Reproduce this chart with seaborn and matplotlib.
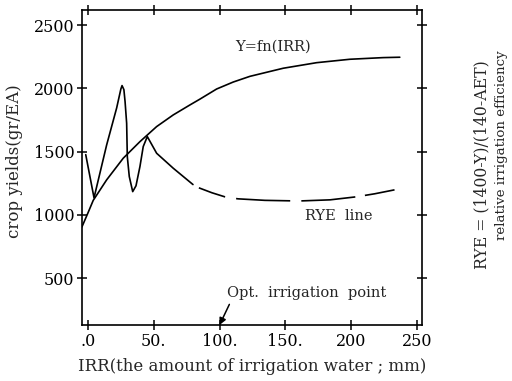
import pandas as pd
import matplotlib
matplotlib.use('Agg')
import matplotlib.pyplot as plt
import seaborn as sns

# Y = fn(IRR) yield curve
yfn_x = [-4.6, 0, 4.0, 14.2, 26.8, 39.5, 52.2, 64.8, 77.5, 85.1, 97.8, 110.4, 123.1,
         148.4, 173.8, 199.1, 224.4, 237]
yfn_y = [905, 1016, 1115, 1277, 1448, 1579, 1698, 1790, 1869, 1915, 1995, 2050, 2095,
         2159, 2203, 2230, 2243, 2246]

# RYE line, solid part
rye_x = [-1.7, 4.6, 14.2, 21.8, 25.0, 25.9, 27.3, 28.2, 29.4, 29.9, 31.4, 34.0, 36.5,
         39.5, 42.0, 45.1, 52.2, 64.8, 79.8]
rye_y = [1476, 1135, 1553, 1845, 1995, 2022, 1990, 1895, 1724, 1460, 1303, 1184, 1230,
         1382, 1540, 1619, 1487, 1369, 1240]
# RYE line, dashed part
rye_dash_x = [84.3, 94.2, 104, 114, 134.5, 155, 163, 184, 204, 218, 233]
rye_dash_y = [1214, 1175, 1143, 1127, 1115, 1111, 1111, 1119, 1143, 1167, 1198]

x_ticks = [0, 50, 100, 150, 200, 250]
x_tick_labels = ['.0', '50.', '100.', '150.', '200', '250']
y_ticks = [500, 1000, 1500, 2000, 2500]

sns.set_style('ticks')
plt.rcParams['font.family'] = ['DejaVu Serif']
plt.rcParams['lines.scale_dashes'] = False

fig = plt.figure(figsize=(5.12, 3.81), dpi=100)
ax = fig.add_axes([0.160, 0.147, 0.664, 0.827])

df_fn = pd.DataFrame({'x': yfn_x, 'y': yfn_y})
df_rye = pd.DataFrame({'x': rye_x, 'y': rye_y})
df_dash = pd.DataFrame({'x': rye_dash_x, 'y': rye_dash_y})

sns.lineplot(data=df_fn, x='x', y='y', ax=ax, color='black', lw=1.2,
             estimator=None, sort=False)
sns.lineplot(data=df_rye, x='x', y='y', ax=ax, color='black', lw=1.2,
             estimator=None, sort=False)
sns.lineplot(data=df_dash, x='x', y='y', ax=ax, color='black', lw=1.2,
             estimator=None, sort=False,
             linestyle=(0, (20, 8, 39, 8, 39, 7, 22, 60)))

ax.set_xlim(-4.6, 253.8)
ax.set_ylim(130, 2620)
ax.set_xticks(x_ticks, x_tick_labels)
ax.set_yticks(y_ticks)
ax.tick_params(direction='inout', length=7, width=1.1, top=True, right=True,
               labelsize=11.5, colors='black', pad=2)
for sp in ax.spines.values():
    sp.set_linewidth(1.2)
    sp.set_color('black')

ax.set_xlabel('IRR(the amount of irrigation water ; mm)', fontsize=12, labelpad=6)
ax.set_ylabel('crop yields(gr/EA)', fontsize=12, va='center')
ax.yaxis.set_label_coords(-0.197, 0.52)

ax.text(140.5, 2327, 'Y=fn(IRR)', fontsize=10.5, ha='center', va='center')
ax.text(190.7, 992, 'RYE  line', fontsize=10.5, ha='center', va='center')
ax.annotate('Opt.  irrigation  point', xy=(100, 130), xytext=(166, 384),
            fontsize=10.5, ha='center', va='center',
            arrowprops=dict(arrowstyle='-|>', color='black', lw=1.1,
                            shrinkA=1, shrinkB=0, mutation_scale=10,
                            relpos=(0.03, 0.0)))

fig.text(482 / 512, 1 - 165 / 381, 'RYE = (1400-Y)/(140-AET)', rotation=90,
         fontsize=11.3, ha='center', va='center')
fig.text(502 / 512, 1 - 145 / 381, 'relative irrigation efficiency', rotation=90,
         fontsize=9.6, ha='center', va='center')

fig.savefig('out.png', dpi=100)
